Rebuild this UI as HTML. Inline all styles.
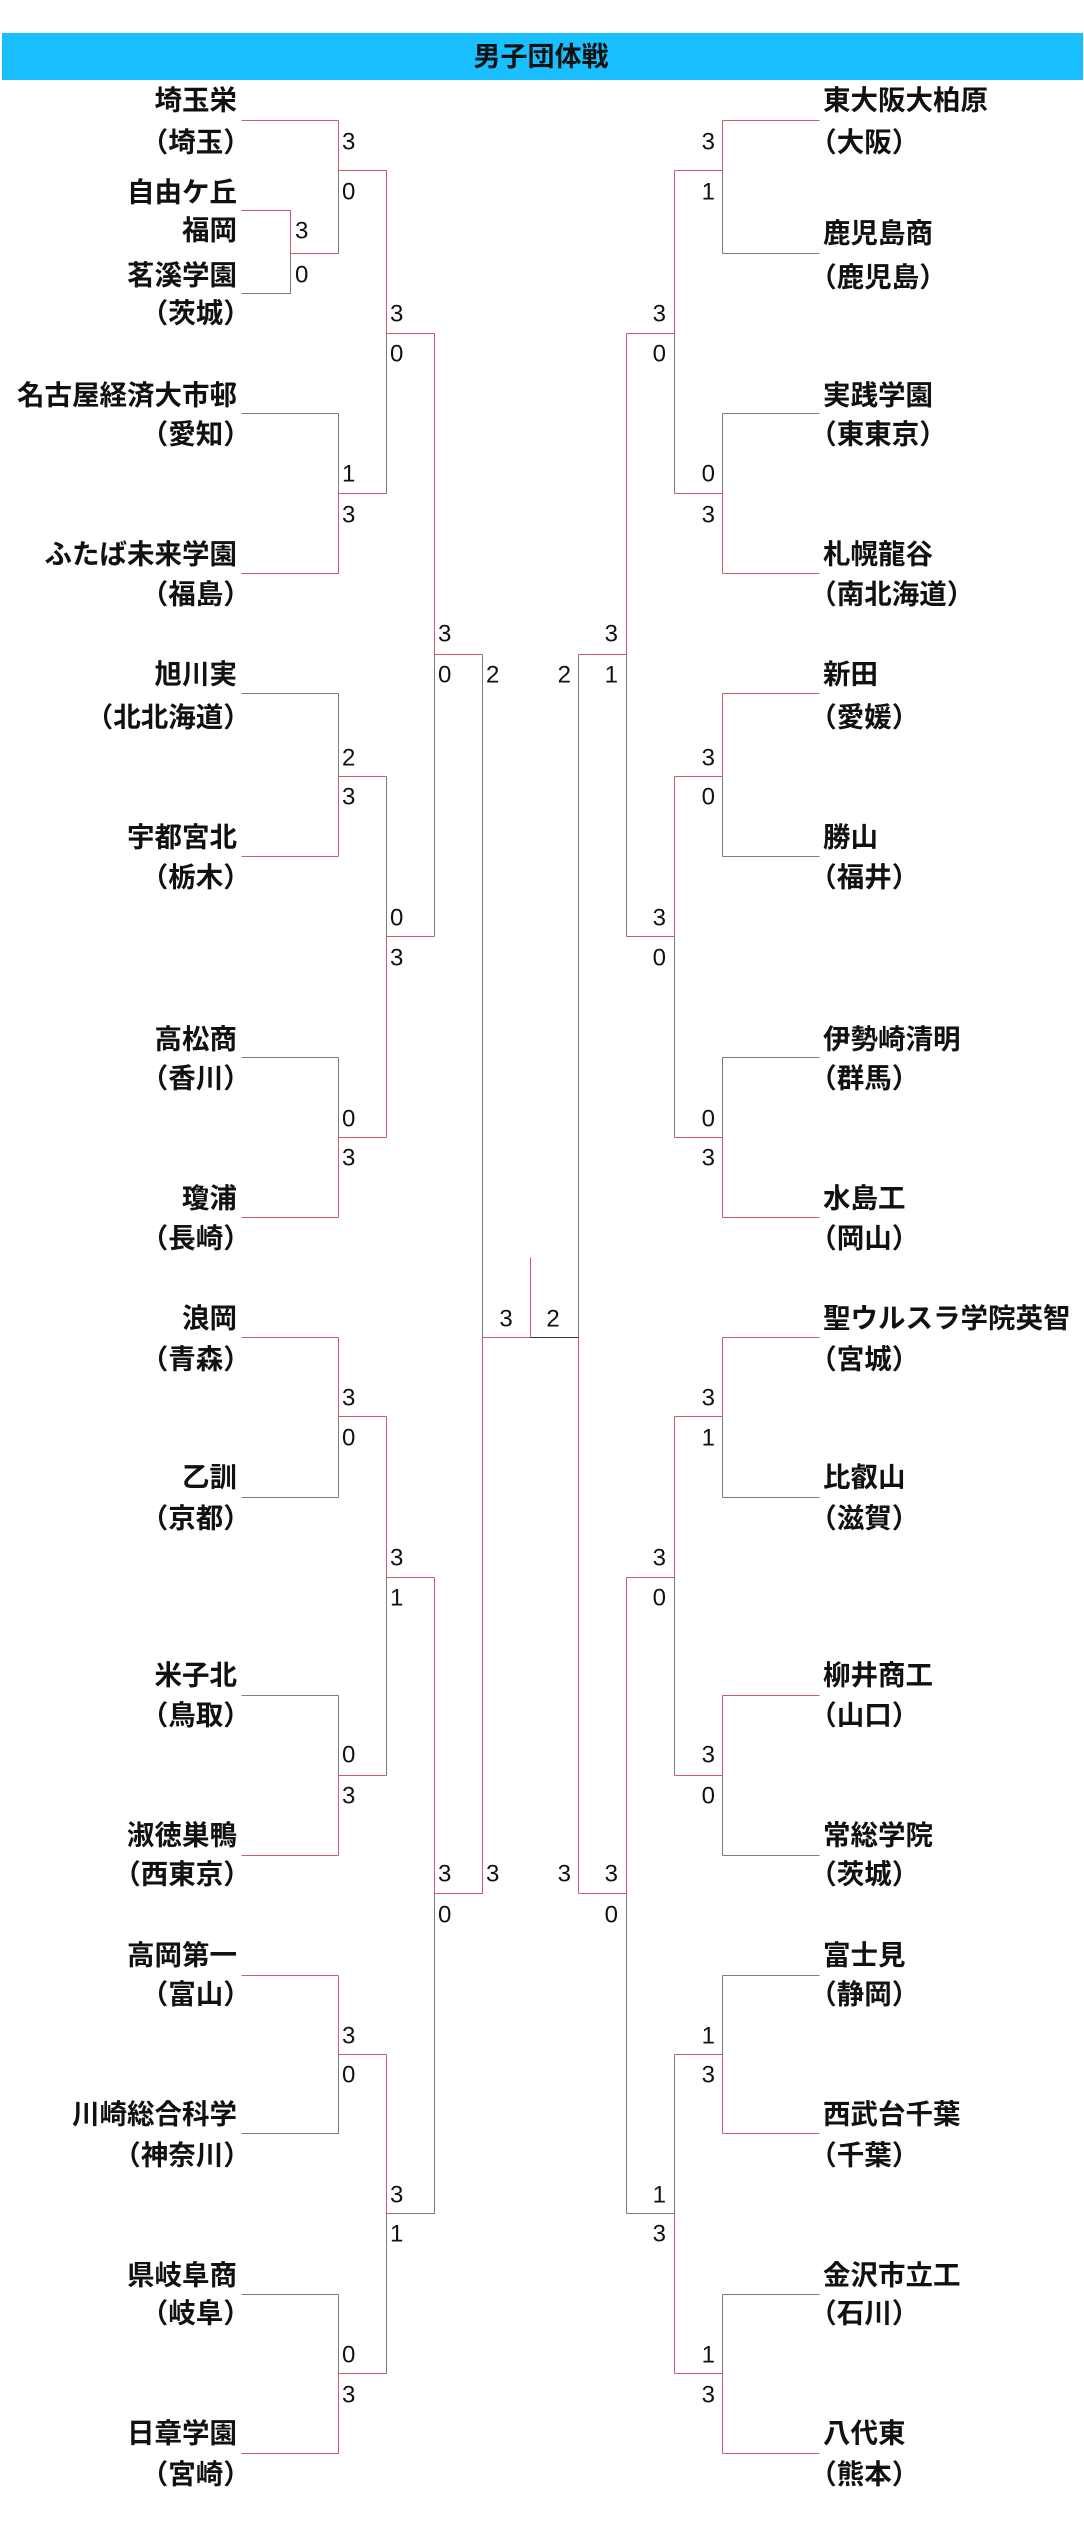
<!DOCTYPE html>
<html lang="ja">
<head>
<meta charset="utf-8">
<style>
  html,body{margin:0;padding:0;background:#fff;}
  body{width:1084px;height:2521px;overflow:hidden;}
  svg{display:block;}
  .n{font-family:"Liberation Sans","Noto Sans CJK JP",sans-serif;font-weight:bold;font-size:27.5px;fill:#111;}
  .p{font-family:"Liberation Sans","Noto Sans CJK JP",sans-serif;font-weight:bold;font-size:27.5px;fill:#111;font-feature-settings:"halt";}
  .s{font-family:"Liberation Sans",sans-serif;font-size:24px;fill:#111;}
  .t{font-family:"Liberation Sans","Noto Sans CJK JP",sans-serif;font-weight:bold;font-size:27px;fill:#111;}
</style>
</head>
<body>
<svg width="1084" height="2521" viewBox="0 0 1084 2521" xmlns="http://www.w3.org/2000/svg">
  <rect x="0" y="0" width="1084" height="2521" fill="#fff"/>
  <rect x="2" y="33" width="1081" height="47" fill="#19bfff"/>
  <text class="t" x="541" y="57" text-anchor="middle" dominant-baseline="central">男子団体戦</text>

  <g transform="translate(0.5,0.5)" fill="none" stroke-width="1" shape-rendering="crispEdges">
    <!-- LEFT RED -->
    <path stroke="#cf5a66" d="
      M241 120H338 M241 210H290 M241 573H338 M241 856H338 M241 1217H338 M241 1337H338 M241 1855H338 M241 1975H338 M241 2453H338
      M290 210V253 M338 120V170 M338 493V573 M338 776V856 M338 1137V1217 M338 1337V1416 M338 1775V1855 M338 1975V2054 M338 2373V2453
      M290 253H338 M338 170H386 M338 493H386 M338 776H386 M338 1137H386 M338 1416H386 M338 1775H386 M338 2054H386 M338 2373H386
      M386 170V333 M386 936V1137 M386 1416V1577 M386 2054V2213
      M386 333H434 M386 936H434 M386 1577H434
      M434 333V654 M434 1577V1893
      M434 654H482 M434 1893H482
      M482 1337V1893
      M482 1337H530 M530 1257V1337
    "/>
    <!-- LEFT GREY -->
    <path stroke="#7c7c7c" d="
      M241 293H290 M241 413H338 M241 693H338 M241 1057H338 M241 1497H338 M241 1695H338 M241 2133H338 M241 2294H338
      M290 253V293 M338 170V253 M338 413V493 M338 693V776 M338 1057V1137 M338 1416V1497 M338 1695V1775 M338 2054V2133 M338 2294V2373
      M386 333V493 M386 776V936 M386 1577V1775 M386 2213V2373
      M386 2213H434
      M434 654V936 M434 1893V2213
      M482 654V1337
    "/>
    <!-- RIGHT RED -->
    <path stroke="#cf5a66" d="
      M722 120H819 M722 573H819 M722 693H819 M722 1217H819 M722 1337H819 M722 1695H819 M722 2133H819 M722 2453H819
      M722 120V170 M722 493V573 M722 693V776 M722 1137V1217 M722 1337V1416 M722 1695V1775 M722 2054V2133 M722 2373V2453
      M674 170H722 M674 493H722 M674 776H722 M674 1137H722 M674 1416H722 M674 1775H722 M674 2054H722 M674 2373H722
      M674 170V333 M674 776V936 M674 1416V1577 M674 2213V2373
      M626 333H674 M626 936H674 M626 1577H674
      M626 333V654 M626 1577V1893
      M578 654H626 M578 1893H626
      M578 1337V1893
    "/>
    <!-- RIGHT GREY -->
    <path stroke="#7c7c7c" d="
      M722 253H819 M722 413H819 M722 856H819 M722 1057H819 M722 1497H819 M722 1855H819 M722 1975H819 M722 2294H819
      M722 170V253 M722 413V493 M722 776V856 M722 1057V1137 M722 1416V1497 M722 1775V1855 M722 1975V2054 M722 2294V2373
      M674 333V493 M674 936V1137 M674 1577V1775 M674 2054V2213
      M626 2213H674
      M626 654V936 M626 1893V2213
      M578 654V1337
    "/>
    <path stroke="#333" d="M530 1337H578"/>
  </g>

  <!-- LEFT NAMES -->
  <g text-anchor="end" dominant-baseline="central">
    <text class="n" x="237" y="100">埼玉栄</text>
    <text class="p" x="237" y="142">（埼玉）</text>
    <text class="n" x="237" y="192">自由ケ丘</text>
    <text class="n" x="237" y="230">福岡</text>
    <text class="n" x="237" y="275">茗溪学園</text>
    <text class="p" x="237" y="313">（茨城）</text>
    <text class="n" x="237" y="395">名古屋経済大市邨</text>
    <text class="p" x="237" y="434">（愛知）</text>
    <text class="n" x="237" y="554">ふたば未来学園</text>
    <text class="p" x="237" y="594">（福島）</text>
    <text class="n" x="237" y="674">旭川実</text>
    <text class="p" x="237" y="717">（北北海道）</text>
    <text class="n" x="237" y="837">宇都宮北</text>
    <text class="p" x="237" y="877">（栃木）</text>
    <text class="n" x="237" y="1039">高松商</text>
    <text class="p" x="237" y="1078">（香川）</text>
    <text class="n" x="237" y="1198">瓊浦</text>
    <text class="p" x="237" y="1238">（長崎）</text>
    <text class="n" x="237" y="1318">浪岡</text>
    <text class="p" x="237" y="1359">（青森）</text>
    <text class="n" x="237" y="1477">乙訓</text>
    <text class="p" x="237" y="1518">（京都）</text>
    <text class="n" x="237" y="1675">米子北</text>
    <text class="p" x="237" y="1715">（鳥取）</text>
    <text class="n" x="237" y="1835">淑徳巣鴨</text>
    <text class="p" x="237" y="1874">（西東京）</text>
    <text class="n" x="237" y="1955">高岡第一</text>
    <text class="p" x="237" y="1994">（富山）</text>
    <text class="n" x="237" y="2114">川崎総合科学</text>
    <text class="p" x="237" y="2155">（神奈川）</text>
    <text class="n" x="237" y="2275">県岐阜商</text>
    <text class="p" x="237" y="2313">（岐阜）</text>
    <text class="n" x="237" y="2433">日章学園</text>
    <text class="p" x="237" y="2474">（宮崎）</text>
  </g>

  <!-- RIGHT NAMES -->
  <g text-anchor="start" dominant-baseline="central">
    <text class="n" x="823" y="100">東大阪大柏原</text>
    <text class="p" x="823" y="142">（大阪）</text>
    <text class="n" x="823" y="233">鹿児島商</text>
    <text class="p" x="823" y="277">（鹿児島）</text>
    <text class="n" x="823" y="395">実践学園</text>
    <text class="p" x="823" y="434">（東東京）</text>
    <text class="n" x="823" y="554">札幌龍谷</text>
    <text class="p" x="823" y="594">（南北海道）</text>
    <text class="n" x="823" y="674">新田</text>
    <text class="p" x="823" y="717">（愛媛）</text>
    <text class="n" x="823" y="837">勝山</text>
    <text class="p" x="823" y="877">（福井）</text>
    <text class="n" x="823" y="1039">伊勢崎清明</text>
    <text class="p" x="823" y="1078">（群馬）</text>
    <text class="n" x="823" y="1198">水島工</text>
    <text class="p" x="823" y="1238">（岡山）</text>
    <text class="n" x="823" y="1318">聖ウルスラ学院英智</text>
    <text class="p" x="823" y="1359">（宮城）</text>
    <text class="n" x="823" y="1477">比叡山</text>
    <text class="p" x="823" y="1518">（滋賀）</text>
    <text class="n" x="823" y="1675">柳井商工</text>
    <text class="p" x="823" y="1715">（山口）</text>
    <text class="n" x="823" y="1835">常総学院</text>
    <text class="p" x="823" y="1874">（茨城）</text>
    <text class="n" x="823" y="1955">富士見</text>
    <text class="p" x="823" y="1994">（静岡）</text>
    <text class="n" x="823" y="2114">西武台千葉</text>
    <text class="p" x="823" y="2155">（千葉）</text>
    <text class="n" x="823" y="2275">金沢市立工</text>
    <text class="p" x="823" y="2313">（石川）</text>
    <text class="n" x="823" y="2433">八代東</text>
    <text class="p" x="823" y="2474">（熊本）</text>
  </g>

  <!-- LEFT SCORES -->
  <g class="s" text-anchor="start" dominant-baseline="central">
    <text class="s" x="295" y="231">3</text>
    <text class="s" x="295" y="275">0</text>

    <text class="s" x="342" y="142">3</text>
    <text class="s" x="342" y="192">0</text>
    <text class="s" x="342" y="474">1</text>
    <text class="s" x="342" y="515">3</text>
    <text class="s" x="342" y="758">2</text>
    <text class="s" x="342" y="797">3</text>
    <text class="s" x="342" y="1119">0</text>
    <text class="s" x="342" y="1158">3</text>
    <text class="s" x="342" y="1398">3</text>
    <text class="s" x="342" y="1438">0</text>
    <text class="s" x="342" y="1755">0</text>
    <text class="s" x="342" y="1796">3</text>
    <text class="s" x="342" y="2036">3</text>
    <text class="s" x="342" y="2075">0</text>
    <text class="s" x="342" y="2355">0</text>
    <text class="s" x="342" y="2395">3</text>

    <text class="s" x="390" y="314">3</text>
    <text class="s" x="390" y="354">0</text>
    <text class="s" x="390" y="918">0</text>
    <text class="s" x="390" y="958">3</text>
    <text class="s" x="390" y="1558">3</text>
    <text class="s" x="390" y="1598">1</text>
    <text class="s" x="390" y="2195">3</text>
    <text class="s" x="390" y="2234">1</text>

    <text class="s" x="438" y="634">3</text>
    <text class="s" x="438" y="675">0</text>
    <text class="s" x="438" y="1874">3</text>
    <text class="s" x="438" y="1915">0</text>

    <text class="s" x="486" y="675">2</text>
    <text class="s" x="486" y="1874">3</text>
  </g>

  <!-- FINAL SCORES -->
  <g text-anchor="middle" dominant-baseline="central">
    <text class="s" x="506" y="1319">3</text>
    <text class="s" x="553" y="1319">2</text>
  </g>

  <!-- RIGHT SCORES -->
  <g text-anchor="end" dominant-baseline="central">
    <text class="s" x="715" y="142">3</text>
    <text class="s" x="715" y="192">1</text>
    <text class="s" x="715" y="474">0</text>
    <text class="s" x="715" y="515">3</text>
    <text class="s" x="715" y="758">3</text>
    <text class="s" x="715" y="797">0</text>
    <text class="s" x="715" y="1119">0</text>
    <text class="s" x="715" y="1158">3</text>
    <text class="s" x="715" y="1398">3</text>
    <text class="s" x="715" y="1438">1</text>
    <text class="s" x="715" y="1755">3</text>
    <text class="s" x="715" y="1796">0</text>
    <text class="s" x="715" y="2036">1</text>
    <text class="s" x="715" y="2075">3</text>
    <text class="s" x="715" y="2355">1</text>
    <text class="s" x="715" y="2395">3</text>

    <text class="s" x="666" y="314">3</text>
    <text class="s" x="666" y="354">0</text>
    <text class="s" x="666" y="918">3</text>
    <text class="s" x="666" y="958">0</text>
    <text class="s" x="666" y="1558">3</text>
    <text class="s" x="666" y="1598">0</text>
    <text class="s" x="666" y="2195">1</text>
    <text class="s" x="666" y="2234">3</text>

    <text class="s" x="618" y="634">3</text>
    <text class="s" x="618" y="675">1</text>
    <text class="s" x="618" y="1874">3</text>
    <text class="s" x="618" y="1915">0</text>

    <text class="s" x="571" y="675">2</text>
    <text class="s" x="571" y="1874">3</text>
  </g>
</svg>
</body>
</html>
